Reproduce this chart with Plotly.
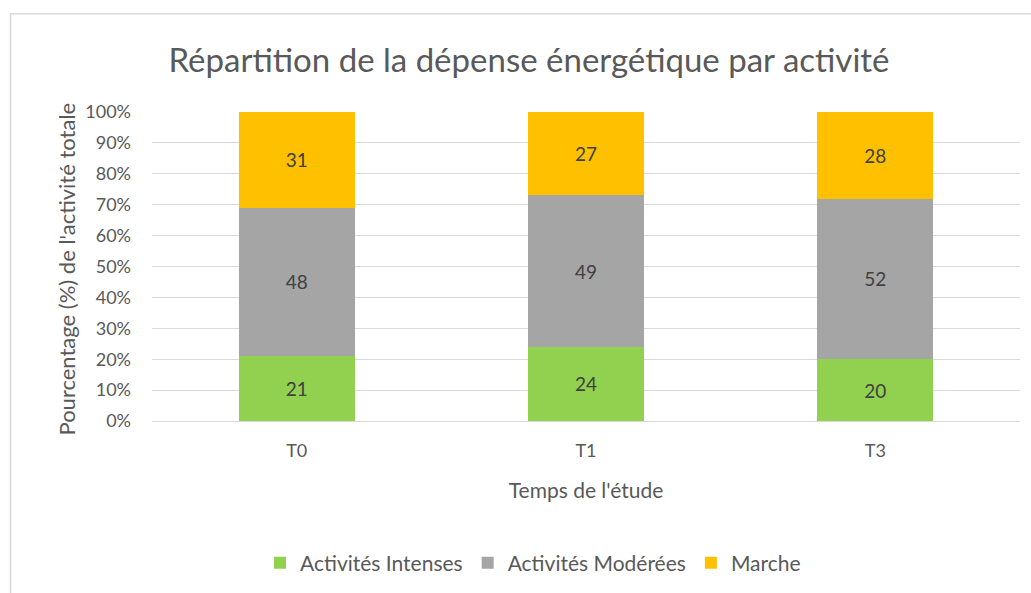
import plotly.graph_objects as go

categories = ["T0", "T1", "T3"]
intenses = [21, 24, 20]
moderees = [48, 49, 52]
marche = [31, 27, 28]
series_names = ["Activités Intenses", "Activités Modérées", "Marche"]
colors = ["#92D050", "#A5A5A5", "#FFC000"]
y_ticks = list(range(0, 101, 10))
y_ticklabels = [f"{v}%" for v in y_ticks]

FONT = "Lato, Carlito, Liberation Sans, sans-serif"

fig = go.Figure()
for name, vals, col in zip(series_names, [intenses, moderees, marche], colors):
    fig.add_trace(go.Bar(
        x=categories, y=vals, name=name, marker_color=col,
        marker_line_width=0,
        text=vals, texttemplate="%{text}", textposition="inside",
        insidetextanchor="middle",
        textfont=dict(size=19, color="#404040", family=FONT),
    ))

W, H = 1031, 593
L, R, T, B = 152, 11, 112, 171
pw = W - L - R
ph = H - T - B

def px_x(p):
    return (p - L) / pw

def px_y(p):
    return (H - B - p) / ph

fig.update_layout(
    width=W, height=H,
    margin=dict(l=L, r=R, t=T, b=B),
    barmode="stack", bargap=0.6,
    paper_bgcolor="white", plot_bgcolor="white",
    font=dict(family=FONT, color="#595959"),
    title=dict(text="Répartition de la dépense énergétique par activité",
               x=529 / W, xref="container", xanchor="center",
               y=1 - 60 / H, yref="container", yanchor="middle",
               font=dict(size=33, color="#595959", family=FONT)),
    xaxis=dict(
        showgrid=False, showline=False, ticks="",
        tickfont=dict(size=18, color="#595959"),
        ticklabelstandoff=17,
        title=dict(text="Temps de l'étude", font=dict(size=21, color="#595959"), standoff=23),
    ),
    yaxis=dict(
        range=[0, 100], tickvals=y_ticks, ticktext=y_ticklabels,
        showgrid=True, gridcolor="#D9D9D9", gridwidth=1,
        zeroline=True, zerolinecolor="#D9D9D9", zerolinewidth=1,
        tickfont=dict(size=18, color="#595959"),
        ticklabelstandoff=20,
    ),
    legend=dict(orientation="h", xanchor="center", x=px_x(533),
                yanchor="middle", y=px_y(563),
                font=dict(size=21, color="#595959"),
                traceorder="normal", itemwidth=30),
    showlegend=True,
)

fig.add_annotation(
    text="Pourcentage (%) de l'activité totale", textangle=-90,
    xref="paper", yref="paper", x=px_x(66), y=px_y(270),
    xanchor="center", yanchor="middle", showarrow=False,
    font=dict(size=22, color="#595959", family=FONT),
)

fig.add_shape(type="rect", xref="paper", yref="paper",
              x0=px_x(10.5), x1=px_x(1040), y0=px_y(610), y1=px_y(13.5),
              line=dict(color="#D9D9D9", width=1.5), layer="below")

fig.write_html("out.html", config={"displayModeBar": False},
               post_script="document.body.style.margin='0';")
